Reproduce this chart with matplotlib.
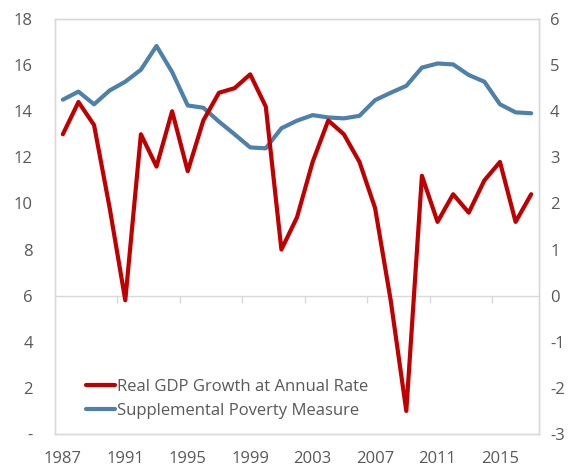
import numpy as np
import matplotlib
matplotlib.use("Agg")
import matplotlib.pyplot as plt

plt.rcParams['font.family'] = ['Open Sans', 'DejaVu Sans']
plt.rcParams['axes.unicode_minus'] = False

# data
years = np.arange(1987, 2018)
gdp = [3.5, 4.2, 3.7, 1.9, -0.1, 3.5, 2.8, 4.0, 2.7, 3.8, 4.4, 4.5, 4.8, 4.1, 1.0, 1.7,
       2.9, 3.8, 3.5, 2.9, 1.9, -0.1, -2.5, 2.6, 1.6, 2.2, 1.8, 2.5, 2.9, 1.6, 2.2]
spm = [14.5, 14.85, 14.3, 14.9, 15.28, 15.8, 16.83, 15.7, 14.25, 14.15, 13.55, 13.0, 12.43,
       12.39, 13.26, 13.59, 13.83, 13.73, 13.69, 13.8, 14.48, 14.8, 15.1, 15.89, 16.07,
       16.03, 15.57, 15.28, 14.3, 13.95, 13.91]
left_ticks = list(range(0, 19, 2))
left_labels = ['-'] + [str(v) for v in left_ticks[1:]]
right_ticks = list(range(-3, 7))
year_labels = years[::4]

red = '#C00000'
blue = '#4E80AC'
gray = '#595959'
border = '#D9D9D9'

fig = plt.figure(figsize=(5.75, 4.7), dpi=100)
ax = fig.add_axes([0.0957, 0.0766, 0.8417, 0.883])
ax2 = ax.twinx()

l2, = ax.plot(years, spm, color=blue, lw=3, solid_capstyle='round', zorder=3)
l1, = ax2.plot(years, gdp, color=red, lw=3, solid_capstyle='round', zorder=3)

ax.set_xlim(years[0] - 0.5, years[-1] + 0.5)
ax.set_ylim(0, 18)
ax2.set_ylim(-3, 6)
ax.set_yticks(left_ticks)
ax.set_yticklabels(left_labels)
ax2.set_yticks(right_ticks)
ax.set_xticks(year_labels)

for a in (ax, ax2):
    for s in a.spines.values():
        s.set_color(border)
        s.set_linewidth(1)
ax.tick_params(axis='y', length=0, pad=16, labelsize=12, labelcolor=gray)
ax2.tick_params(axis='y', length=0, pad=8, labelsize=12, labelcolor=gray)
ax.tick_params(axis='x', length=0, pad=12, labelsize=12, labelcolor=gray)

# zero line of the growth axis with category tick marks
sec = ax.secondary_xaxis(1 / 3)
sec.set_xticks(years[3::4] + 0.5)
sec.tick_params(axis='x', direction='out', length=5, color=border, labelbottom=False, width=1)
sec.spines['bottom'].set_color(border)
sec.spines['bottom'].set_linewidth(1)

leg = ax.legend([l1, l2], ['Real GDP Growth at Annual Rate', 'Supplemental Poverty Measure'],
                loc='lower left', bbox_to_anchor=(0.05, 0.02), frameon=False,
                fontsize=12, handlelength=1.75, handletextpad=0.1, labelspacing=0.5,
                borderaxespad=0)
for t in leg.get_texts():
    t.set_color(gray)

fig.savefig('out.png', dpi=100)
